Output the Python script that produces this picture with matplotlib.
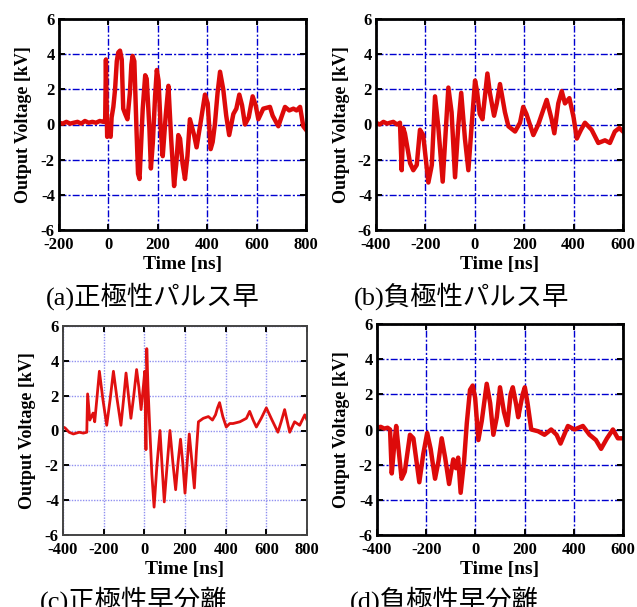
import matplotlib.pyplot as plt
import numpy as np

# (a) positive polarity pulse early
t_a = [-200, -185, -170, -155, -140, -125, -110, -95, -80, -65, -50, -35, -20, -13, -10, -7, -5, 0, 9, 13,
       20, 27, 34, 40, 47, 54, 60, 68, 77, 87, 93, 98, 105, 114, 120, 126, 139, 149, 155, 166, 172,
       180, 189, 196, 203, 212, 220, 232, 243, 254, 266, 275, 283, 290, 300, 310, 320, 330, 347, 357,
       372, 391, 402, 414, 422, 431, 442, 452, 465, 477, 489, 506, 518, 530, 541, 553, 568, 584, 596,
       607, 627, 654, 665, 688, 700, 715, 732, 749, 762, 776, 789, 800]
v_a = [0.1, 0.05, 0.15, 0.05, 0.1, 0.15, 0.05, 0.2, 0.1, 0.15, 0.1, 0.2, 0.15, 0.3, 3.7, 1.0, -0.7, -0.5, -0.7, 0.4,
       1.0, 2.0, 3.6, 4.1, 4.2, 3.7, 0.9, 0.6, 0.3, 1.8, 3.4, 3.9, 3.6, -0.4, -2.8, -3.1, 0.9, 2.8, 2.6, -0.2, -2.5,
       -1.0, 1.6, 3.1, 2.5, -0.3, -1.8, 0.5, 2.2, -0.8, -3.5, -2.2, -0.6, -0.8, -2.2, -3.1, -1.8, 0.3, -0.6, -1.3,
       0.0, 1.7, 1.2, -1.4, -1.0, 0.0, 1.8, 3.0, 2.0, 0.5, -0.6, 0.6, 0.9, 1.7, 1.1, 0.0, 0.4, 1.6, 1.1,
       0.3, 0.9, 1.0, 0.5, -0.1, 0.4, 1.0, 0.8, 0.9, 0.8, 1.0, -0.1, -0.3]

# (b) negative polarity pulse early
t_b = [-400, -385, -370, -355, -343, -330, -315, -303, -296, -290, -283, -262, -249, -235, -222, -209,
       -188, -174, -161, -148, -130, -114, -107, -94, -80, -67, -55, -40, -26, -13, 1, 9, 20, 31, 51,
       61, 78, 89, 102, 122, 136, 163, 183, 196, 209, 237, 257, 291, 311, 322, 338, 352, 365, 383, 400,
       413, 430, 446, 473, 500, 527, 547, 567, 585, 600]
v_b = [0.1, 0.0, 0.15, 0.05, 0.1, 0.15, 0.0, 0.1, -2.6, -0.2, -0.5, -2.2, -2.6, -2.3, -0.3, -0.6,
       -3.3, -2.3, 1.6, -0.1, -3.25, 0.5, 2.1, 0.7, -3.0, -0.1, 1.8, -0.8, -2.6, -0.1, 2.5, 1.9, 0.6, 0.3, 2.9,
       1.8, 0.5, 1.2, 2.3, 0.7, -0.1, -0.4, 0.1, 1.0, 0.6, -0.6, 0.0, 1.4, 0.3, -0.5, 1.2, 1.9, 1.2, 1.5, 0.4,
       -0.8, -0.3, 0.1, -0.3, -1.05, -0.9, -1.05, -0.4, -0.2, -0.4]

# (c) positive polarity early separation
t_c = [-400, -390, -370, -349, -320, -300, -283, -279, -268, -252, -244, -232, -221, -204, -185, -168,
       -152, -134, -115, -102, -90, -78, -66, -52, -38, -27, -16, -5, 2, 8, 12, 18, 26, 37, 48, 62, 77,
       88, 98, 112, 126, 140, 154, 166, 178, 190, 200, 211, 221, 234, 246, 256, 266, 290, 315, 335, 350,
       360, 370, 386, 403, 420, 436, 470, 502, 518, 535, 551, 575, 600, 628, 657, 673, 690, 715, 739,
       764, 789, 800]
v_c = [0.2, 0.15, -0.1, -0.2, -0.1, -0.15, -0.1, 2.1, 0.6, 1.0, 0.5, 2.0, 3.4, 1.8, 0.3, 1.8,
       3.4, 1.8, 0.3, 1.8, 3.3, 2.0, 0.7, 2.0, 3.5, 2.5, 1.2, 2.5, 3.4, -1.1, 4.7, 2.5, 0.3, -2.5, -4.4, -2.0, 0.0,
       -2.2, -4.1, -2.0, 0.0, -1.8, -3.4, -1.8, -0.5, -2.0, -3.6, -1.8, -0.2, -1.8, -3.3, -1.2, 0.5, 0.7, 0.8, 0.6, 0.9,
       1.3, 1.6, 0.8, 0.2, 0.4, 0.4, 0.5, 0.7, 1.1, 0.6, 0.2, 0.7, 1.3, 0.6, -0.1, 0.5, 1.2, -0.1, 0.5,
       0.3, 0.9, 0.6]

# (d) negative polarity early separation
t_d = [-400, -385, -370, -357, -347, -340, -330, -322, -300, -287, -266, -252, -228, -212, -196, -182,
       -164, -150, -137, -123, -107, -90, -79, -70, -60, -46, -35, -22, -11, -1, 12, 26, 46, 60, 73, 87,
       100, 116, 130, 143, 152, 166, 174, 192, 201, 212, 227, 255, 281, 308, 330, 346, 376, 403, 420,
       437, 464, 490, 511, 535, 559, 579, 600]
v_d = [0.1, 0.15, 0.05, 0.1, 0.0, -2.5, -0.9, 0.2, -2.8, -2.4, -0.3, -0.5, -3.0, -1.4, -0.2, -1.1,
       -2.8, -1.8, -0.5, -1.6, -3.1, -1.7, -2.2, -1.6, -3.6, -1.8, 0.35, 2.25, 2.5, 1.8, -0.6, 0.5, 2.6, 1.5, -0.3, 0.7,
       2.4, 1.0, 0.25, 2.0, 2.4, 1.4, 0.7, 2.0, 2.4, 1.5, 0.0, -0.1, -0.3, 0.0, -0.3, -0.8, 0.2, 0.0, 0.1,
       0.2, -0.3, -0.6, -1.1, -0.5, 0.0, -0.5, -0.5]

captions = ["(a)正極性パルス早", "(b)負極性パルス早", "(c)正極性早分離", "(d)負極性早分離"]

plt.rcParams['font.family'] = ['Liberation Serif', 'Noto Sans CJK JP']
plt.rcParams['axes.unicode_minus'] = False

fig = plt.figure(figsize=(6.37, 6.07), dpi=100)

panels = [
    (t_a, v_a, (-200, 800), [-200, 0, 200, 400, 600, 800], [59, 19, 306, 230], False),
    (t_b, v_b, (-400, 600), [-400, -200, 0, 200, 400, 600], [376, 19, 623, 230], False),
    (t_c, v_c, (-400, 800), [-400, -200, 0, 200, 400, 600, 800], [63, 326, 307, 535], True),
    (t_d, v_d, (-400, 600), [-400, -200, 0, 200, 400, 600], [377, 324, 623, 535], False),
]
cap_pos = [(46, 296), (354, 296), (40, 600), (350, 600)]

W, H = 637, 607
for (t, v, xl, xt, box, light), cap, cp in zip(panels, captions, cap_pos):
    x0, y0, x1, y1 = box
    ax = fig.add_axes([x0 / W, 1 - y1 / H, (x1 - x0) / W, (y1 - y0) / H])
    if light:
        ax.plot(t, v, color='#e01010', lw=2.0)
        ax.grid(True, color='#9090f0', ls=(0, (1, 1)), lw=1.0)
        for s in ax.spines.values():
            s.set_linewidth(1.4)
            s.set_color('#444444')
    else:
        ax.plot(t, v, color='#dd0a0a', lw=3.2)
        ax.grid(True, color='#0000d0', ls=(0, (5, 1.5, 1.5, 1.5)), lw=1.0)
        for s in ax.spines.values():
            s.set_linewidth(2.0)
    ax.set_axisbelow(True)
    ax.set_xlim(*xl)
    ax.set_ylim(-6, 6)
    ax.set_xticks(xt)
    ax.set_yticks([-6, -4, -2, 0, 2, 4, 6])
    ax.tick_params(direction='in', top=True, right=True, length=4, width=1.4, pad=3)
    ax.tick_params(axis='x', pad=5)
    for lab in ax.get_xticklabels() + ax.get_yticklabels():
        lab.set_fontweight('bold')
        lab.set_fontsize(12)
    ax.set_xlabel("Time [ns]", fontsize=14, fontweight='bold', labelpad=2)
    ax.set_ylabel("Output Voltage [kV]", fontsize=13, fontweight='bold', labelpad=6)
    fig.text(cp[0] / W, 1 - cp[1] / H, cap, fontsize=19, va='center', ha='left')

fig.savefig("out.png", dpi=100)
